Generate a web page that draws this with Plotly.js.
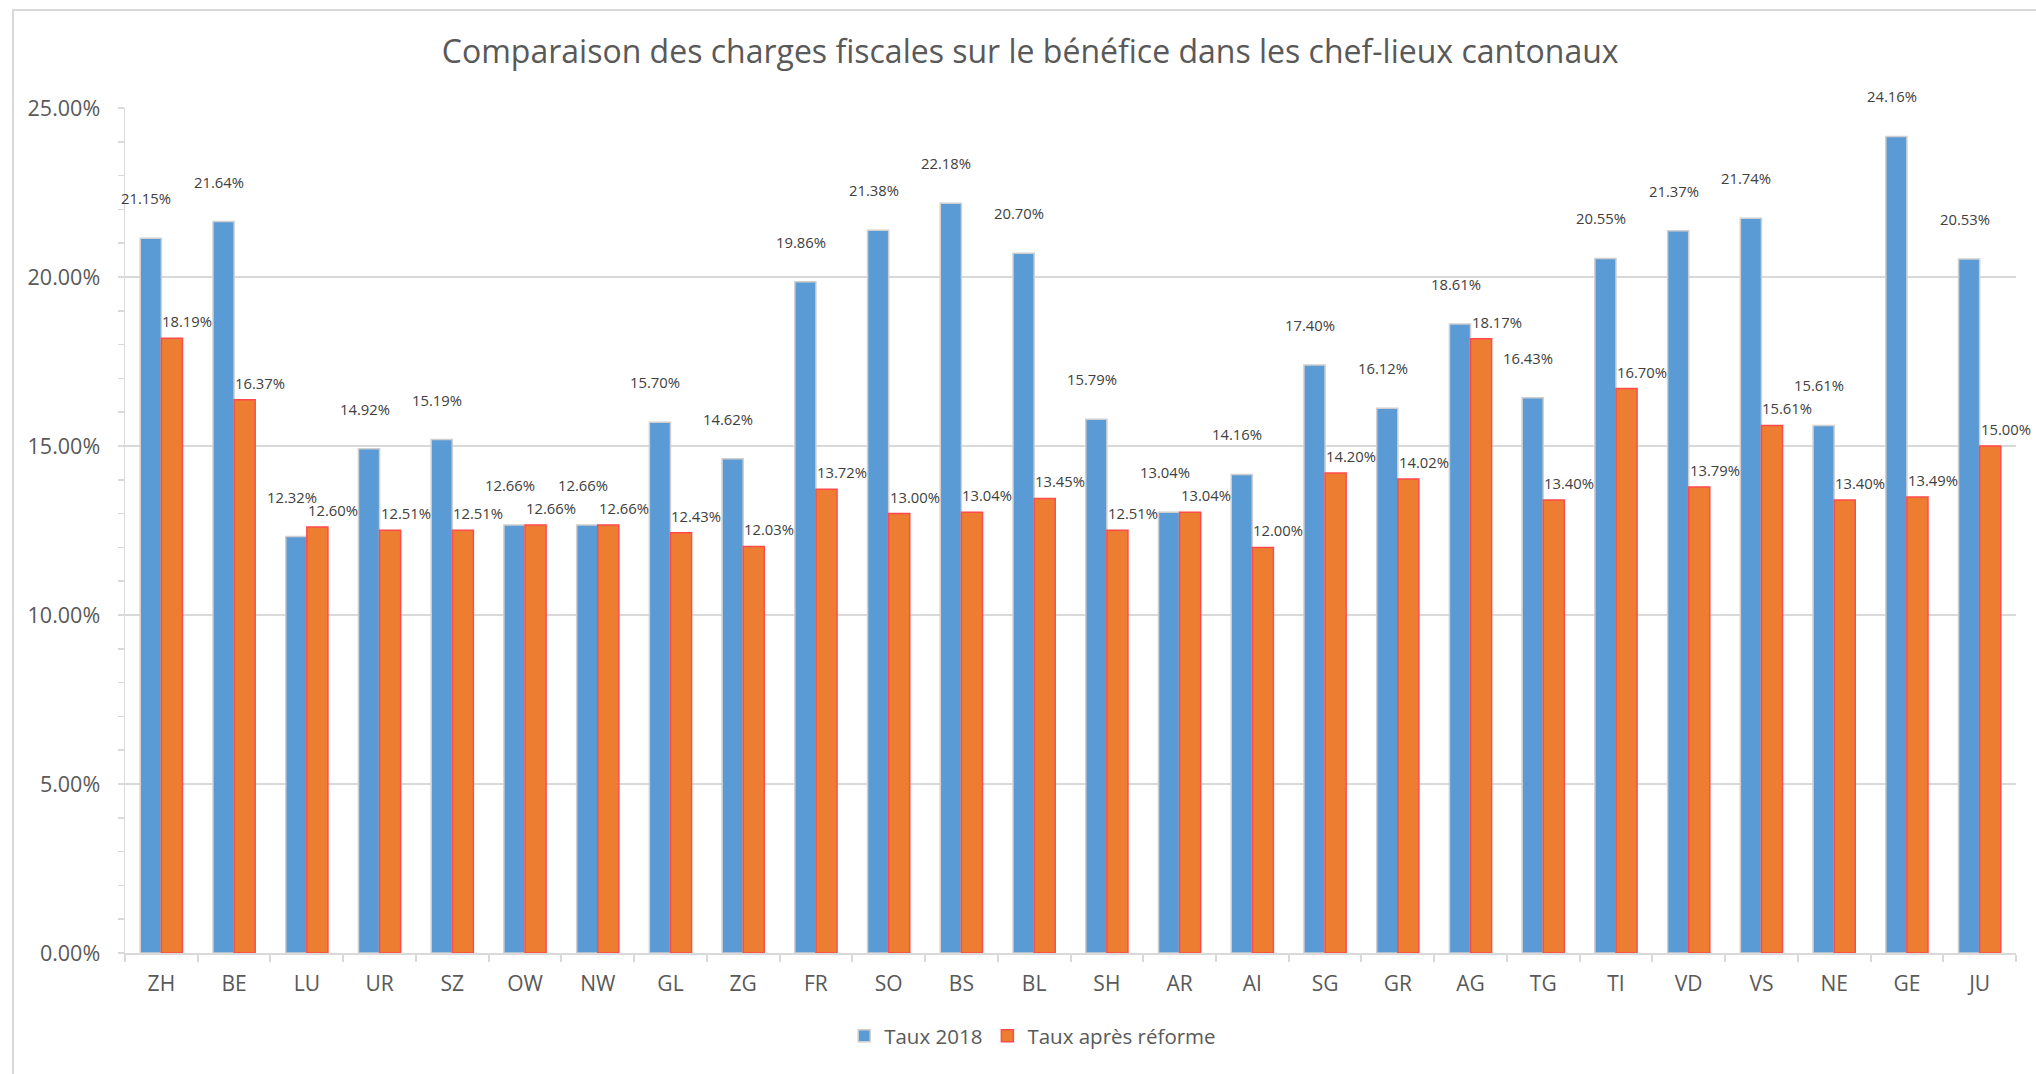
<!DOCTYPE html>
<html>
<head>
<meta charset="utf-8">
<script src="https://cdn.plot.ly/plotly-3.0.1.min.js"></script>
<style>
  html, body { margin: 0; padding: 0; background: #ffffff; overflow: hidden; }
  #chart { position: absolute; left: 0; top: 0; width: 2036px; height: 1074px; }
  #frame { position: absolute; left: 12px; top: 9px; width: 2100px; height: 1200px;
           border-left: 2px solid #D9D9D9; border-top: 2px solid #D9D9D9; pointer-events: none; }
</style>
</head>
<body>
<div id="chart"></div>
<div id="frame"></div>
<script>
const categories = ["ZH","BE","LU","UR","SZ","OW","NW","GL","ZG","FR","SO","BS","BL","SH","AR","AI","SG","GR","AG","TG","TI","VD","VS","NE","GE","JU"];
const taux2018 = [21.15,21.64,12.32,14.92,15.19,12.66,12.66,15.70,14.62,19.86,21.38,22.18,20.70,15.79,13.04,14.16,17.40,16.12,18.61,16.43,20.55,21.37,21.74,15.61,24.16,20.53];
const tauxReforme = [18.19,16.37,12.60,12.51,12.51,12.66,12.66,12.43,12.03,13.72,13.00,13.04,13.45,12.51,13.04,12.00,14.20,14.02,18.17,13.40,16.70,13.79,15.61,13.40,13.49,15.00];
const seriesNames = ["Taux 2018", "Taux après réforme"];
const chartTitle = "Comparaison des charges fiscales sur le bénéfice dans les chef-lieux cantonaux";

const FONT = "'Open Sans', 'Noto Sans', sans-serif";
const GRID = "#D9D9D9";

const traces = [
  {
    type: "bar", name: seriesNames[0], x: categories, y: taux2018,
    marker: { color: "#5B9BD5", line: { color: "#D0CECE", width: 1.5 } },
    hoverinfo: "none"
  },
  {
    type: "bar", name: seriesNames[1], x: categories, y: tauxReforme,
    marker: { color: "#ED7D31", line: { color: "#FF4B4B", width: 1.5 } },
    hoverinfo: "none"
  }
];

const annotations = [];
categories.forEach((c, i) => {
  annotations.push({
    x: c, y: taux2018[i], xref: "x", yref: "y",
    text: taux2018[i].toFixed(2) + "%", showarrow: false,
    xanchor: "center", yanchor: "middle", xshift: -15, yshift: 40,
    font: { family: FONT, size: 14.8, color: "#404040" }
  });
  annotations.push({
    x: c, y: tauxReforme[i], xref: "x", yref: "y",
    text: tauxReforme[i].toFixed(2) + "%", showarrow: false,
    xanchor: "center", yanchor: "middle", xshift: 26, yshift: 17,
    font: { family: FONT, size: 14.8, color: "#404040" }
  });
});

const layout = {
  width: 2036, height: 1074,
  margin: { l: 125, r: 20, t: 108, b: 121, pad: 0, autoexpand: false },
  paper_bgcolor: "#ffffff", plot_bgcolor: "#ffffff",
  font: { family: FONT, color: "#595959" },
  title: {
    text: chartTitle, x: 0.506, xref: "container", xanchor: "center",
    y: 0.9516, yref: "container", yanchor: "middle",
    font: { family: FONT, size: 32, color: "#595959" }
  },
  barmode: "group", bargap: 0.42, bargroupgap: 0,
  showlegend: true,
  legend: {
    orientation: "h", x: 0.48, xanchor: "center", y: -0.098, yanchor: "middle",
    font: { family: FONT, size: 20.5, color: "#595959" },
    itemwidth: 30, traceorder: "normal"
  },
  xaxis: {
    type: "category", range: [-0.5, categories.length - 0.5], autorange: false, automargin: false,
    showgrid: false, showline: true, linecolor: GRID, linewidth: 2,
    ticks: "outside", tickson: "boundaries", ticklen: 7, tickcolor: GRID, tickwidth: 2,
    tickfont: { family: FONT, size: 21, color: "#595959" }, ticklabelstandoff: 11,
    zeroline: false, fixedrange: true
  },
  yaxis: {
    range: [0, 25], autorange: false, automargin: false,
    dtick: 5, tick0: 0, tickformat: ".2f", ticksuffix: "%",
    showgrid: true, gridcolor: GRID, gridwidth: 1.5,
    showline: true, linecolor: GRID, linewidth: 1.5,
    ticks: "outside", ticklen: 6, tickcolor: GRID, tickwidth: 1.5,
    minor: { dtick: 1, ticks: "outside", ticklen: 6, tickcolor: GRID, tickwidth: 1.5, showgrid: false },
    tickfont: { family: FONT, size: 21.5, color: "#595959" }, ticklabelstandoff: 13,
    zeroline: false, fixedrange: true
  },
  annotations: annotations
};

Plotly.newPlot("chart", traces, layout, { displayModeBar: false, staticPlot: true });
</script>
</body>
</html>
